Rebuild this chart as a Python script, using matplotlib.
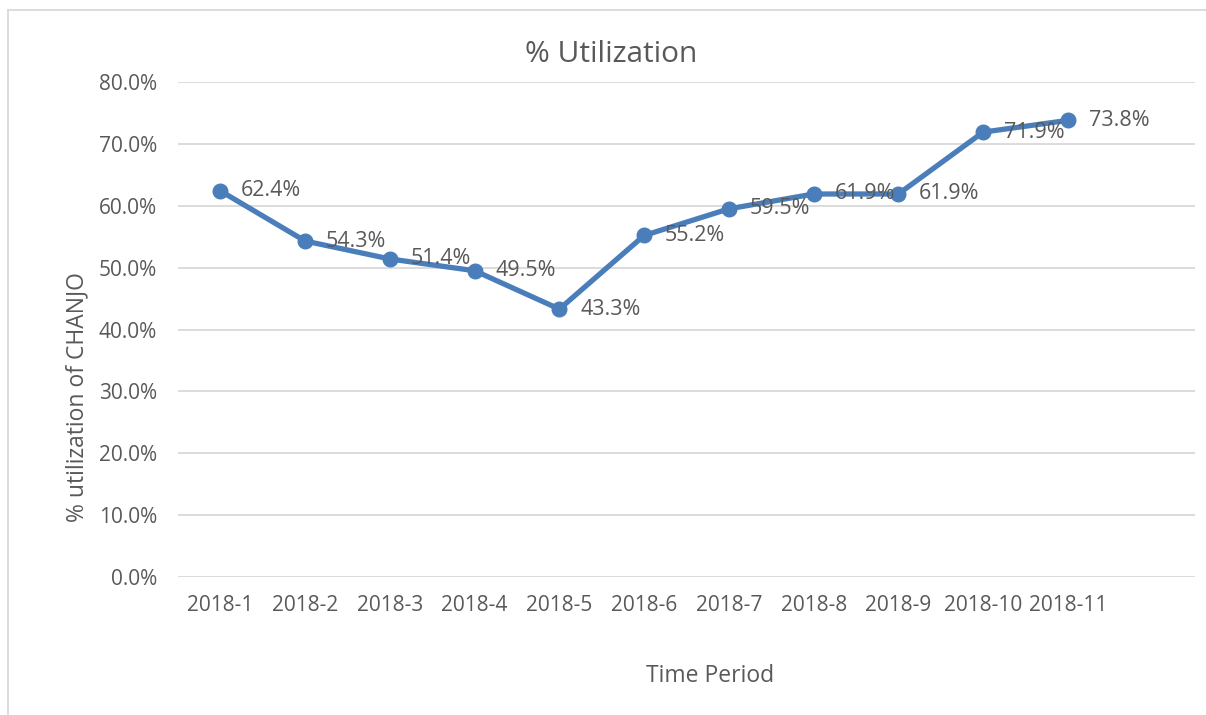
import matplotlib.pyplot as plt
from matplotlib.lines import Line2D
from matplotlib.ticker import FuncFormatter

periods = ["2018-1", "2018-2", "2018-3", "2018-4", "2018-5", "2018-6",
           "2018-7", "2018-8", "2018-9", "2018-10", "2018-11"]
utilization = [62.4, 54.3, 51.4, 49.5, 43.3, 55.2, 59.5, 61.9, 61.9, 71.9, 73.8]

grey_text = "#595959"
blue = "#4a7ebb"
plt.rcParams["font.family"] = ["Open Sans", "DejaVu Sans"]

fig = plt.figure(figsize=(12.06, 7.15), dpi=100)
ax = fig.add_axes([178 / 1206, 1 - 577 / 715, (1195 - 178) / 1206, (577 - 82) / 715])

x = list(range(len(periods)))
ax.plot(x, utilization, color=blue, linewidth=3.8, marker="o", markersize=10.5,
        solid_capstyle="round", zorder=3)
for xi, v in zip(x, utilization):
    ax.annotate(f"{v:.1f}%", (xi, v), xytext=(15, 0), textcoords="offset points",
                ha="left", va="center", fontsize=15.5, color=grey_text, zorder=4)

# Excel leaves one empty category slot on the right
ax.set_xlim(-0.5, len(periods) + 0.5)
ax.set_ylim(0, 80)
ax.set_yticks(range(0, 81, 10))
ax.yaxis.set_major_formatter(FuncFormatter(lambda v, _: f"{v:.1f}%"))
ax.set_xticks(x)
ax.set_xticklabels(periods)
ax.tick_params(length=0, colors=grey_text, labelsize=15)
ax.tick_params(axis="y", pad=15)
ax.tick_params(axis="x", pad=13)
ax.grid(axis="y", color="#d9d9d9", linewidth=1.3)
ax.set_axisbelow(True)
for side in ax.spines.values():
    side.set_visible(False)

fig.text(611 / 1206, 1 - 55 / 715, "% Utilization", ha="center", va="center",
         fontsize=21.5, color=grey_text)
fig.text(710 / 1206, 1 - 676 / 715, "Time Period", ha="center", va="center",
         fontsize=16.5, color=grey_text)
fig.text(77 / 1206, 1 - 397 / 715, "% utilization of CHANJO", ha="center", va="center",
         rotation=90, fontsize=16.5, color=grey_text)

# chart frame (only top and left edges are visible in the screenshot)
fig.add_artist(Line2D([8 / 1206, 1.0], [1 - 10 / 715, 1 - 10 / 715],
                      transform=fig.transFigure, color="#d9d9d9", linewidth=1.3))
fig.add_artist(Line2D([8 / 1206, 8 / 1206], [0.0, 1 - 10 / 715],
                      transform=fig.transFigure, color="#d9d9d9", linewidth=1.3))

fig.savefig("out.png", dpi=100)
